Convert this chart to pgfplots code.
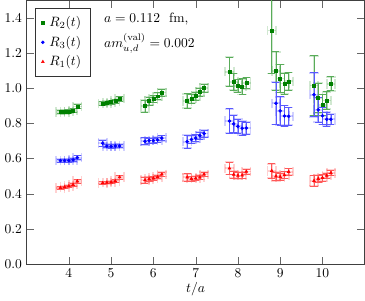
\documentclass[border=0pt]{standalone}
\usepackage{pgfplots}
\usepackage{pgfplotstable}
\pgfplotsset{compat=1.18}
\definecolor{dgreen}{rgb}{0,0.5,0}
\pgfplotstableread{
x y e
3.8 0.865 0.010
3.9 0.865 0.010
4.0 0.867 0.010
4.1 0.874 0.010
4.2 0.896 0.012
4.8 0.914 0.010
4.9 0.916 0.010
5.0 0.920 0.010
5.1 0.926 0.010
5.2 0.940 0.012
5.8 0.898 0.035
5.9 0.926 0.022
6.0 0.938 0.020
6.1 0.954 0.020
6.2 0.975 0.020
6.8 0.928 0.040
6.9 0.940 0.025
7.0 0.955 0.022
7.1 0.977 0.022
7.2 1.001 0.022
7.8 1.094 0.083
7.9 1.037 0.047
8.0 1.013 0.036
8.1 1.009 0.045
8.2 1.029 0.032
8.8 1.328 0.245
8.9 1.098 0.109
9.0 1.055 0.080
9.1 1.027 0.060
9.2 1.039 0.050
9.8 1.015 0.170
9.9 0.945 0.085
10.0 0.904 0.060
10.1 0.930 0.050
10.2 1.025 0.040
}\Rtwo
\pgfplotstableread{
x y e
3.8 0.588 0.010
3.9 0.588 0.010
4.0 0.588 0.010
4.1 0.592 0.010
4.2 0.605 0.012
4.8 0.687 0.018
4.9 0.671 0.010
5.0 0.669 0.010
5.1 0.671 0.010
5.2 0.671 0.010
5.8 0.698 0.020
5.9 0.702 0.015
6.0 0.702 0.015
6.1 0.706 0.015
6.2 0.716 0.015
6.8 0.696 0.037
6.9 0.708 0.022
7.0 0.716 0.020
7.1 0.730 0.020
7.2 0.742 0.020
7.8 0.813 0.070
7.9 0.797 0.050
8.0 0.783 0.040
8.1 0.772 0.040
8.2 0.773 0.035
8.9 0.914 0.120
9.0 0.871 0.080
9.1 0.842 0.060
9.2 0.840 0.050
9.8 0.963 0.125
9.9 0.877 0.070
10.0 0.843 0.050
10.1 0.823 0.040
10.2 0.823 0.030
}\Rthree
\pgfplotstableread{
x y e
3.8 0.433 0.006
3.9 0.437 0.006
4.0 0.443 0.006
4.1 0.451 0.008
4.2 0.471 0.010
4.8 0.461 0.008
4.9 0.463 0.006
5.0 0.465 0.006
5.1 0.471 0.008
5.2 0.494 0.010
5.8 0.477 0.018
5.9 0.483 0.010
6.0 0.488 0.010
6.1 0.495 0.010
6.2 0.510 0.012
6.8 0.493 0.020
6.9 0.485 0.012
7.0 0.487 0.012
7.1 0.493 0.012
7.2 0.510 0.012
7.8 0.544 0.035
7.9 0.509 0.020
8.0 0.503 0.018
8.1 0.504 0.018
8.2 0.526 0.015
8.8 0.530 0.040
8.9 0.499 0.025
9.0 0.496 0.020
9.1 0.506 0.020
9.2 0.525 0.018
9.8 0.473 0.030
9.9 0.485 0.020
10.0 0.491 0.018
10.1 0.503 0.015
10.2 0.518 0.015
}\Rone
\begin{document}
\begin{tikzpicture}
\begin{axis}[
  scale only axis,
  width=250pt, height=195pt,
  xmin=3, xmax=11, ymin=0, ymax=1.5,
  xtick={4,5,6,7,8,9,10},
  ytick={0,0.2,0.4,0.6,0.8,1.0,1.2,1.4},
  yticklabel style={/pgf/number format/.cd,fixed,fixed zerofill,precision=1},
  major tick length=5.5pt,
  axis line style={black!75},
  tick style={black!60},
  xlabel={$t/a$},
  xlabel style={yshift=3pt},
  legend style={at={(0.025,0.97)}, anchor=north west, draw=black!80, fill=white, inner xsep=4.5pt, inner ysep=4pt, row sep=1.5pt},
  legend cell align=left,
  clip=true,
  band/.style={draw=none, mark=none, forget plot,
    error bars/.cd, y dir=both, y explicit, x dir=both, x fixed=0.1,
    error bar style={draw=#1, draw opacity=0.18, line width=1.3pt},
    error mark options={rotate=90, mark size=3.5pt, line width=1.3pt, draw=#1, draw opacity=0.18}},
  main/.style={only marks, color=#1, mark options={draw=#1, fill=#1},
    error bars/.cd, y dir=both, y explicit,
    error bar style={draw=#1!65!white, line width=0.5pt},
    error mark options={rotate=90, mark size=2.6pt, draw=#1!65!white, line width=0.5pt}},
]
% light bands
\addplot[band=dgreen] table[x=x,y=y,y error=e]{\Rtwo};
\addplot[band=blue] table[x=x,y=y,y error=e]{\Rthree};
\addplot[band=red] table[x=x,y=y,y error=e]{\Rone};
% main series
\addplot[mark=square*, mark size=1.1pt, main=dgreen] table[x=x,y=y,y error=e]{\Rtwo};
\addlegendentry{\,$R_2(t)$}
\addplot[mark=*, mark size=1.1pt, main=blue] table[x=x,y=y,y error=e]{\Rthree};
\addlegendentry{\,$R_3(t)$}
\addplot[mark=triangle*, mark size=1.2pt, main=red] table[x=x,y=y,y error=e]{\Rone};
\addlegendentry{\,$R_1(t)$}
\node[anchor=west, inner sep=0pt] at (axis cs:4.83,1.395) {$a=0.112$~~fm,};
\node[anchor=west, inner sep=0pt] at (axis cs:4.83,1.255) {$am_{u,d}^{(\mathrm{val})}=0.002$};
\end{axis}
\end{tikzpicture}
\end{document}
